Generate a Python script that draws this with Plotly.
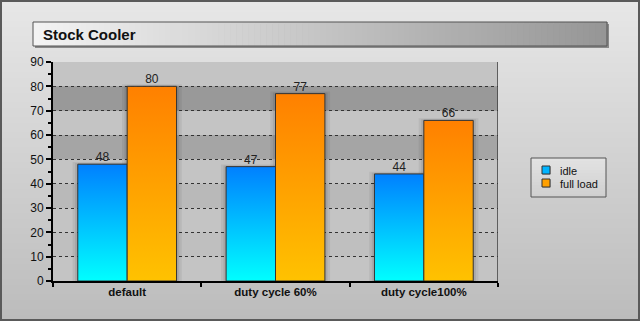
import plotly.graph_objects as go

# ---- data ----
categories = ["default", "duty cycle 60%", "duty cycle100%"]
idle = [48, 47, 44]
full_load = [80, 77, 66]
series_names = ["idle", "full load"]
y_tick_values = [0, 10, 20, 30, 40, 50, 60, 70, 80, 90]

# ---- geometry (pixels) ----
W, H = 640, 321
L, R, T, B = 53, 498, 62, 281


def px_x(p):
    return (p - L) / (R - L)


def px_y(p):
    return (B - p) / (B - T)


def mix(c0, c1, t):
    return "rgb(%d,%d,%d)" % tuple(round(a + (b - a) * t) for a, b in zip(c0, c1))


def paper_rect(x0, y0, x1, y1, **kw):
    return dict(type="rect", xref="paper", yref="paper", layer=kw.pop("layer", "below"),
                x0=px_x(x0), x1=px_x(x1), y0=px_y(y1), y1=px_y(y0), **kw)


FONT = "Liberation Sans, Arial, sans-serif"
fig = go.Figure()
shapes = []
annotations = []

# page background: vertical grey gradient built from thin strips
n_strips = 107
for i in range(n_strips):
    y0 = i * H / n_strips
    y1 = (i + 1) * H / n_strips + 0.6
    shapes.append(paper_rect(0, y0, W, y1,
                             fillcolor=mix((231, 231, 231), (188, 188, 188), i / (n_strips - 1)),
                             line=dict(width=0)))
# outer frame
shapes.append(paper_rect(1, 1, W - 1, H - 1, line=dict(color="#5a5a5a", width=2)))

# title box: drop shadow, horizontal gradient, border
tx0, tx1, ty0, ty1 = 33, 607, 22, 46
shapes.append(paper_rect(tx0 + 2, ty0 + 2, tx1 + 2, ty1 + 2, fillcolor="#8a8a8a", line=dict(width=0)))
n_title = 96
for i in range(n_title):
    a = tx0 + i * (tx1 - tx0) / n_title
    b = tx0 + (i + 1) * (tx1 - tx0) / n_title + 0.6
    shapes.append(paper_rect(a, ty0, b, ty1,
                             fillcolor=mix((243, 243, 243), (150, 150, 150), i / (n_title - 1)),
                             line=dict(width=0)))
shapes.append(paper_rect(tx0, ty0, tx1, ty1, line=dict(color="#555555", width=1)))
annotations.append(dict(xref="paper", yref="paper", x=px_x(41), y=px_y(34),
                        xanchor="left", yanchor="middle", showarrow=False,
                        text="<b>Stock Cooler</b>",
                        font=dict(family=FONT, size=15, color="#111111")))

# plot area base and alternating horizontal bands
shapes.append(dict(type="rect", xref="x", yref="y", layer="below",
                   x0=-0.5, x1=2.5, y0=0, y1=90, fillcolor="#c4c4c4", line=dict(width=0)))
band_colors = {70: "#999999", 50: "#a5a5a5", 30: "#b9b9b9", 10: "#bfbfbf"}
for lo, col in band_colors.items():
    shapes.append(dict(type="rect", xref="x", yref="y", layer="below",
                       x0=-0.5, x1=2.5, y0=lo, y1=lo + 10, fillcolor=col, line=dict(width=0)))
# right border of the plot area
shapes.append(dict(type="line", xref="x", yref="y", layer="above",
                   x0=2.5, x1=2.5, y0=0, y1=90, line=dict(color="#3c3c3c", width=1.5)))

# ---- bars: gradient-filled rectangles, one trace per bar ----
bar_w = 0.333
series = [
    (series_names[0], idle, [[0, "#00ffff"], [1, "#0080ff"]], "#00b4ff"),
    (series_names[1], full_load, [[0, "#ffc200"], [1, "#ff8000"]], "#ffa000"),
]


def bar_edges(si, ci):
    x0 = ci - bar_w + si * bar_w
    return x0, x0 + bar_w


# soft shadows behind bars
for si, (name, vals, cs, swatch) in enumerate(series):
    for ci, v in enumerate(vals):
        x0, x1 = bar_edges(si, ci)
        for pad, alpha in ((0.035, 0.06), (0.018, 0.08)):
            fig.add_trace(go.Scatter(
                x=[x0 - pad, x1 + pad, x1 + pad, x0 - pad, x0 - pad],
                y=[0, 0, v + pad * 25, v + pad * 25, 0],
                fill="toself", fillcolor="rgba(0,0,0,%g)" % alpha,
                mode="lines", line=dict(width=0), hoverinfo="skip", showlegend=False))

for si, (name, vals, cs, swatch) in enumerate(series):
    for ci, v in enumerate(vals):
        x0, x1 = bar_edges(si, ci)
        fig.add_trace(go.Scatter(
            x=[x0, x1, x1, x0, x0], y=[0, 0, v, v, 0],
            fill="toself", fillgradient=dict(type="vertical", colorscale=cs),
            mode="lines", line=dict(color="#333333", width=1),
            name=name, showlegend=False,
            hovertemplate="%s: %d<extra>%s</extra>" % (categories[ci], v, name)))

# value labels above the bars
for si, (name, vals, cs, swatch) in enumerate(series):
    centers = [sum(bar_edges(si, ci)) / 2 for ci in range(len(vals))]
    fig.add_trace(go.Scatter(
        x=centers, y=vals, mode="text", text=[str(v) for v in vals],
        textposition="top center", textfont=dict(family=FONT, size=12, color="#222222"),
        hoverinfo="skip", showlegend=False))

# invisible trace that carries the category labels axis
fig.add_trace(go.Scatter(x=[0, 1, 2], y=[None, None, None], xaxis="x2",
                         mode="markers", hoverinfo="skip", showlegend=False))

# ---- legend box: gradient panel, square swatches, labels ----
lx0, ly0, lx1, ly1 = 531, 158, 606, 197
n_leg = 13
for i in range(n_leg):
    a = ly0 + i * (ly1 - ly0) / n_leg
    b = ly0 + (i + 1) * (ly1 - ly0) / n_leg + 0.6
    shapes.append(paper_rect(lx0, a, lx1, b,
                             fillcolor=mix((226, 226, 226), (208, 208, 208), i / (n_leg - 1)),
                             line=dict(width=0)))
shapes.append(paper_rect(lx0, ly0, lx1, ly1, line=dict(color="#555555", width=1)))
for si, (name, vals, cs, swatch) in enumerate(series):
    sy = 166 + si * 13
    shapes.append(paper_rect(543, sy + 1, 551, sy + 9, fillcolor="rgba(0,0,0,0.15)",
                             line=dict(width=0)))
    shapes.append(paper_rect(542, sy, 550, sy + 8, fillcolor=swatch,
                             line=dict(color="#333333", width=1)))
    annotations.append(dict(xref="paper", yref="paper", x=px_x(558), y=px_y(sy + 4.5),
                            xanchor="left", yanchor="middle", showarrow=False,
                            text=name, font=dict(family=FONT, size=11, color="#111111")))

fig.update_layout(
    width=W, height=H,
    margin=dict(l=L, r=W - R, t=T, b=H - B, pad=0),
    paper_bgcolor="#d4d4d4",
    plot_bgcolor="rgba(0,0,0,0)",
    font=dict(family=FONT, size=12, color="#111111"),
    shapes=shapes,
    annotations=annotations,
    showlegend=False,
    xaxis=dict(range=[-0.5, 2.5], showgrid=False, zeroline=False,
               showline=True, linecolor="#000000", linewidth=2,
               tickmode="array", tickvals=[-0.5, 0.5, 1.5, 2.5],
               ticks="outside", ticklen=4, tickwidth=2, tickcolor="#000000",
               showticklabels=False, fixedrange=True),
    xaxis2=dict(overlaying="x", matches="x", side="bottom", showgrid=False,
                zeroline=False, showline=False, ticks="", ticklabelstandoff=2,
                tickmode="array", tickvals=[0, 1, 2], ticktext=categories,
                tickfont=dict(family=FONT, size=11.5, color="#111111", weight="bold")),
    yaxis=dict(range=[0, 90], tickmode="array", tickvals=y_tick_values,
               showgrid=True, gridcolor="#333333", griddash="dot", gridwidth=1,
               zeroline=False, showline=True, linecolor="#000000", linewidth=2,
               ticks="outside", ticklen=5, tickwidth=1.5, tickcolor="#000000",
               minor=dict(dtick=5, ticks="outside", ticklen=3, tickcolor="#000000",
                          showgrid=False),
               tickfont=dict(family=FONT, size=12, color="#111111"),
               fixedrange=True),
)

fig.write_html("out.html")
